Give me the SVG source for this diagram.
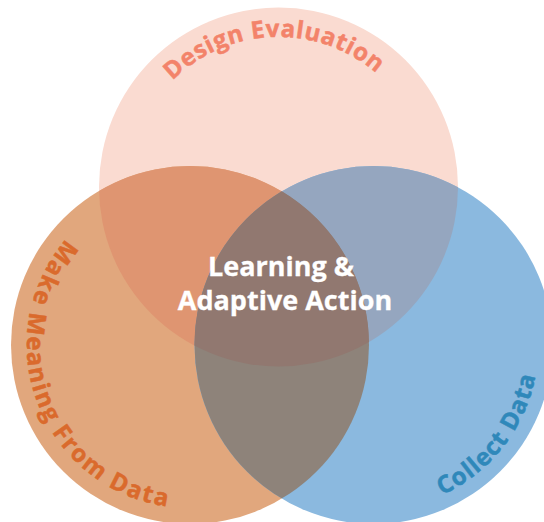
<svg xmlns="http://www.w3.org/2000/svg" width="544" height="522" viewBox="0 0 544 522">
<style>
.lbl{font-family:"Open Sans","Liberation Sans",sans-serif;font-weight:700;font-size:24px;stroke-width:0.5px}
.ctr{font-family:"Open Sans","Liberation Sans",sans-serif;font-weight:700;font-size:27px;fill:#ffffff;stroke:#ffffff;stroke-width:0.3px;text-anchor:middle}
</style>
<defs>
<clipPath id="cL"><circle cx="190" cy="345" r="179"/></clipPath>
<clipPath id="cR"><circle cx="373.5" cy="345" r="179"/></clipPath>
<clipPath id="cLR" clip-path="url(#cL)"><circle cx="373.5" cy="345" r="179"/></clipPath>
<path id="pTop" d="M131.8,218.2 A150,150 0 1 1 427.0,207.9"/>
<path id="pLeft" d="M158.9,185.0 A163,163 0 1 0 273.9,484.7"/>
<path id="pRight" d="M250.9,455.4 A165,165 0 1 0 451.0,199.3"/>
</defs>
<rect width="544" height="522" fill="#ffffff"/>
<g id="design-evaluation">
<circle cx="278.5" cy="187" r="179.5" fill="#FADBD1"/>
</g>
<g id="make-meaning">
<circle cx="190" cy="345" r="179" fill="#E1A77D"/>
</g>
<g id="collect-data">
<circle cx="373.5" cy="345" r="179" fill="#8BB9DF"/>
</g>
<g id="overlaps">
<circle cx="278.5" cy="187" r="179.5" fill="#DF9571" clip-path="url(#cL)"/>
<circle cx="278.5" cy="187" r="179.5" fill="#95A6BF" clip-path="url(#cR)"/>
<circle cx="190" cy="345" r="179" fill="#8E837A" clip-path="url(#cR)"/>
<circle cx="278.5" cy="187" r="179.5" fill="#917870" clip-path="url(#cLR)"/>
</g>
<g id="labels">
<text class="lbl" fill="#F3836A" stroke="#F3836A" letter-spacing="0.6"><textPath href="#pTop" startOffset="50%" text-anchor="middle">Design Evaluation</textPath></text>
<text class="lbl" fill="#DA6A2C" stroke="#DA6A2C" letter-spacing="1.9"><textPath href="#pLeft" startOffset="50%" text-anchor="middle">Make Meaning From Data</textPath></text>
<text class="lbl" fill="#2F88BA" stroke="#2F88BA" letter-spacing="1.1"><textPath href="#pRight" startOffset="50%" text-anchor="middle">Collect Data</textPath></text>
</g>
<g id="learning-adaptive-action">
<text class="ctr" x="281" y="276">Learning &amp;</text>
<text class="ctr" x="285" y="310">Adaptive Action</text>
</g>
</svg>
